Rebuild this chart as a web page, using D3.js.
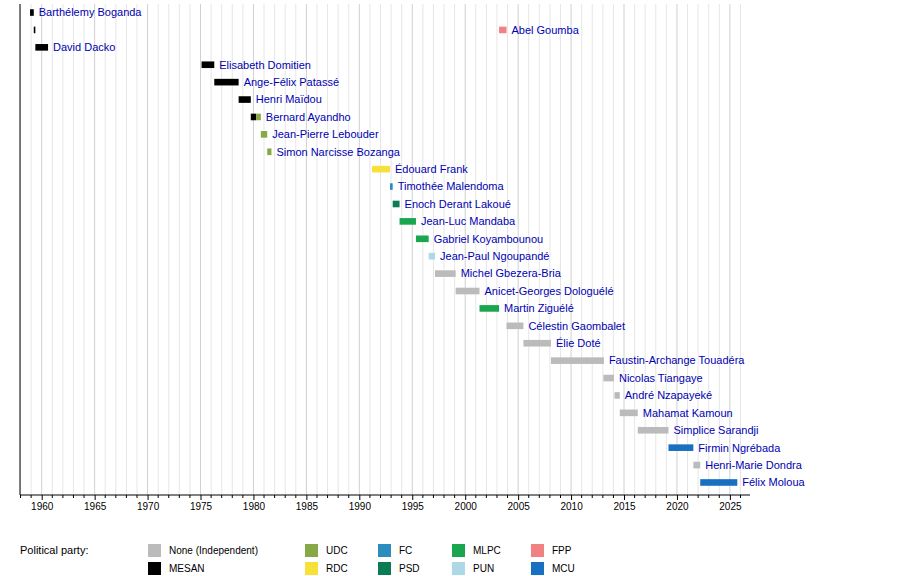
<!DOCTYPE html>
<html>
<head>
<meta charset="utf-8">
<script src="https://cdn.jsdelivr.net/npm/d3@7"></script>
<style>
body { margin: 0; background: #fff; }
text { font-family: "Liberation Sans", Arial, sans-serif; }
</style>
</head>
<body>
<svg id="chart" width="900" height="576"></svg>
<script>
// party colours
var parties = {
    "None (Independent)": "#bbbbbb",
    "MESAN": "#000000",
    "UDC": "#86a846",
    "RDC": "#f6e03a",
    "FC": "#2b8cbe",
    "PSD": "#0b7a55",
    "MLPC": "#1aa64f",
    "PUN": "#add8e6",
    "FPP": "#f28282",
    "MCU": "#1a70c0"
};

// each row: name, list of terms [start, end, party]
var pms = [
    { name: "Barthélemy Boganda", terms: [[1958.9, 1959.25, "MESAN"]] },
    { name: "Abel Goumba", terms: [[1959.25, 1959.4, "MESAN"], [2003.2, 2003.9, "FPP"]] },
    { name: "David Dacko", terms: [[1959.4, 1960.6, "MESAN"]] },
    { name: "Elisabeth Domitien", terms: [[1975.1, 1976.3, "MESAN"]] },
    { name: "Ange-Félix Patassé", terms: [[1976.3, 1978.6, "MESAN"]] },
    { name: "Henri Maïdou", terms: [[1978.6, 1979.75, "MESAN"]] },
    { name: "Bernard Ayandho", terms: [[1979.75, 1980.25, "MESAN"], [1980.25, 1980.7, "UDC"]] },
    { name: "Jean-Pierre Lebouder", terms: [[1980.7, 1981.3, "UDC"]] },
    { name: "Simon Narcisse Bozanga", terms: [[1981.3, 1981.7, "UDC"]] },
    { name: "Édouard Frank", terms: [[1991.2, 1992.9, "RDC"]] },
    { name: "Timothée Malendoma", terms: [[1992.9, 1993.15, "FC"]] },
    { name: "Enoch Derant Lakoué", terms: [[1993.15, 1993.8, "PSD"]] },
    { name: "Jean-Luc Mandaba", terms: [[1993.8, 1995.35, "MLPC"]] },
    { name: "Gabriel Koyambounou", terms: [[1995.35, 1996.55, "MLPC"]] },
    { name: "Jean-Paul Ngoupandé", terms: [[1996.55, 1997.15, "PUN"]] },
    { name: "Michel Gbezera-Bria", terms: [[1997.15, 1999.1, "None (Independent)"]] },
    { name: "Anicet-Georges Dologuélé", terms: [[1999.1, 2001.35, "None (Independent)"]] },
    { name: "Martin Ziguélé", terms: [[2001.35, 2003.2, "MLPC"]] },
    { name: "Célestin Gaombalet", terms: [[2003.9, 2005.5, "None (Independent)"]] },
    { name: "Élie Doté", terms: [[2005.5, 2008.1, "None (Independent)"]] },
    { name: "Faustin-Archange Touadéra", terms: [[2008.1, 2013.1, "None (Independent)"]] },
    { name: "Nicolas Tiangaye", terms: [[2013.05, 2014.05, "None (Independent)"]] },
    { name: "André Nzapayeké", terms: [[2014.1, 2014.6, "None (Independent)"]] },
    { name: "Mahamat Kamoun", terms: [[2014.6, 2016.3, "None (Independent)"]] },
    { name: "Simplice Sarandji", terms: [[2016.3, 2019.2, "None (Independent)"]] },
    { name: "Firmin Ngrébada", terms: [[2019.2, 2021.55, "MCU"]] },
    { name: "Henri-Marie Dondra", terms: [[2021.55, 2022.2, "None (Independent)"]] },
    { name: "Félix Moloua", terms: [[2022.2, 2025.7, "MCU"]] }
];

var svg = d3.select("#chart");

var x = d3.scaleLinear().domain([1957.95, 2026.9]).range([20, 750]);
var y = d3.scaleBand().domain(d3.range(pms.length)).range([4, 491]).paddingInner(0.62).paddingOuter(0.3);

// year gridlines
var years = d3.range(1958, 2027);
svg.append("g").selectAll("line").data(years).join("line")
    .attr("x1", d => x(d)).attr("x2", d => x(d))
    .attr("y1", 4).attr("y2", 495)
    .attr("stroke", d => d % 5 == 0 ? "#d0d0d0" : "#e6e6e6")
    .attr("stroke-width", 1);

// bars and labels
pms.forEach((pm, i) => {
    var row = svg.append("g");
    pm.terms.forEach(t => {
        row.append("rect")
            .attr("x", x(t[0]))
            .attr("y", y(i))
            .attr("width", Math.max(1.5, x(t[1]) - x(t[0])))
            .attr("height", y.bandwidth())
            .attr("fill", parties[t[2]]);
    });
    var last = pm.terms[pm.terms.length - 1];
    row.append("text")
        .attr("x", x(last[1]) + 5)
        .attr("y", y(i) + y.bandwidth() / 2)
        .attr("dy", "0.35em")
        .attr("font-size", 11)
        .attr("fill", "#0000b0")
        .text(pm.name);
});

// x axis
var axis = d3.axisBottom(x)
    .tickValues(d3.range(1960, 2026, 5))
    .tickFormat(d3.format("d"))
    .tickSize(5);
var gx = svg.append("g").attr("transform", "translate(0,495)").call(axis);
gx.select(".domain").attr("d", "M20,0H750");
gx.selectAll("text").attr("font-size", 10).attr("fill", "#000");
gx.selectAll("line").attr("stroke", "#000");
svg.append("g").selectAll("line").data(years.filter(d => d % 5 != 0)).join("line")
    .attr("x1", d => x(d)).attr("x2", d => x(d))
    .attr("y1", 495).attr("y2", 498).attr("stroke", "#000");
svg.append("line").attr("x1", 20).attr("x2", 20).attr("y1", 4).attr("y2", 495).attr("stroke", "#000");

// legend
svg.append("text").attr("x", 20).attr("y", 554).attr("font-size", 11).text("Political party:");
var legendPos = [
    ["None (Independent)", 148, 550], ["MESAN", 148, 568],
    ["UDC", 305, 550], ["RDC", 305, 568],
    ["FC", 378, 550], ["PSD", 378, 568],
    ["MLPC", 452, 550], ["PUN", 452, 568],
    ["FPP", 531, 550], ["MCU", 531, 568]
];
var lg = svg.append("g").selectAll("g").data(legendPos).join("g")
    .attr("transform", d => `translate(${d[1]},${d[2]})`);
lg.append("rect").attr("x", 0).attr("y", -6).attr("width", 13).attr("height", 13)
    .attr("fill", d => parties[d[0]]);
lg.append("text").attr("x", 21).attr("y", 0).attr("dy", "0.35em")
    .attr("font-size", 10).text(d => d[0]);
</script>
</body>
</html>
